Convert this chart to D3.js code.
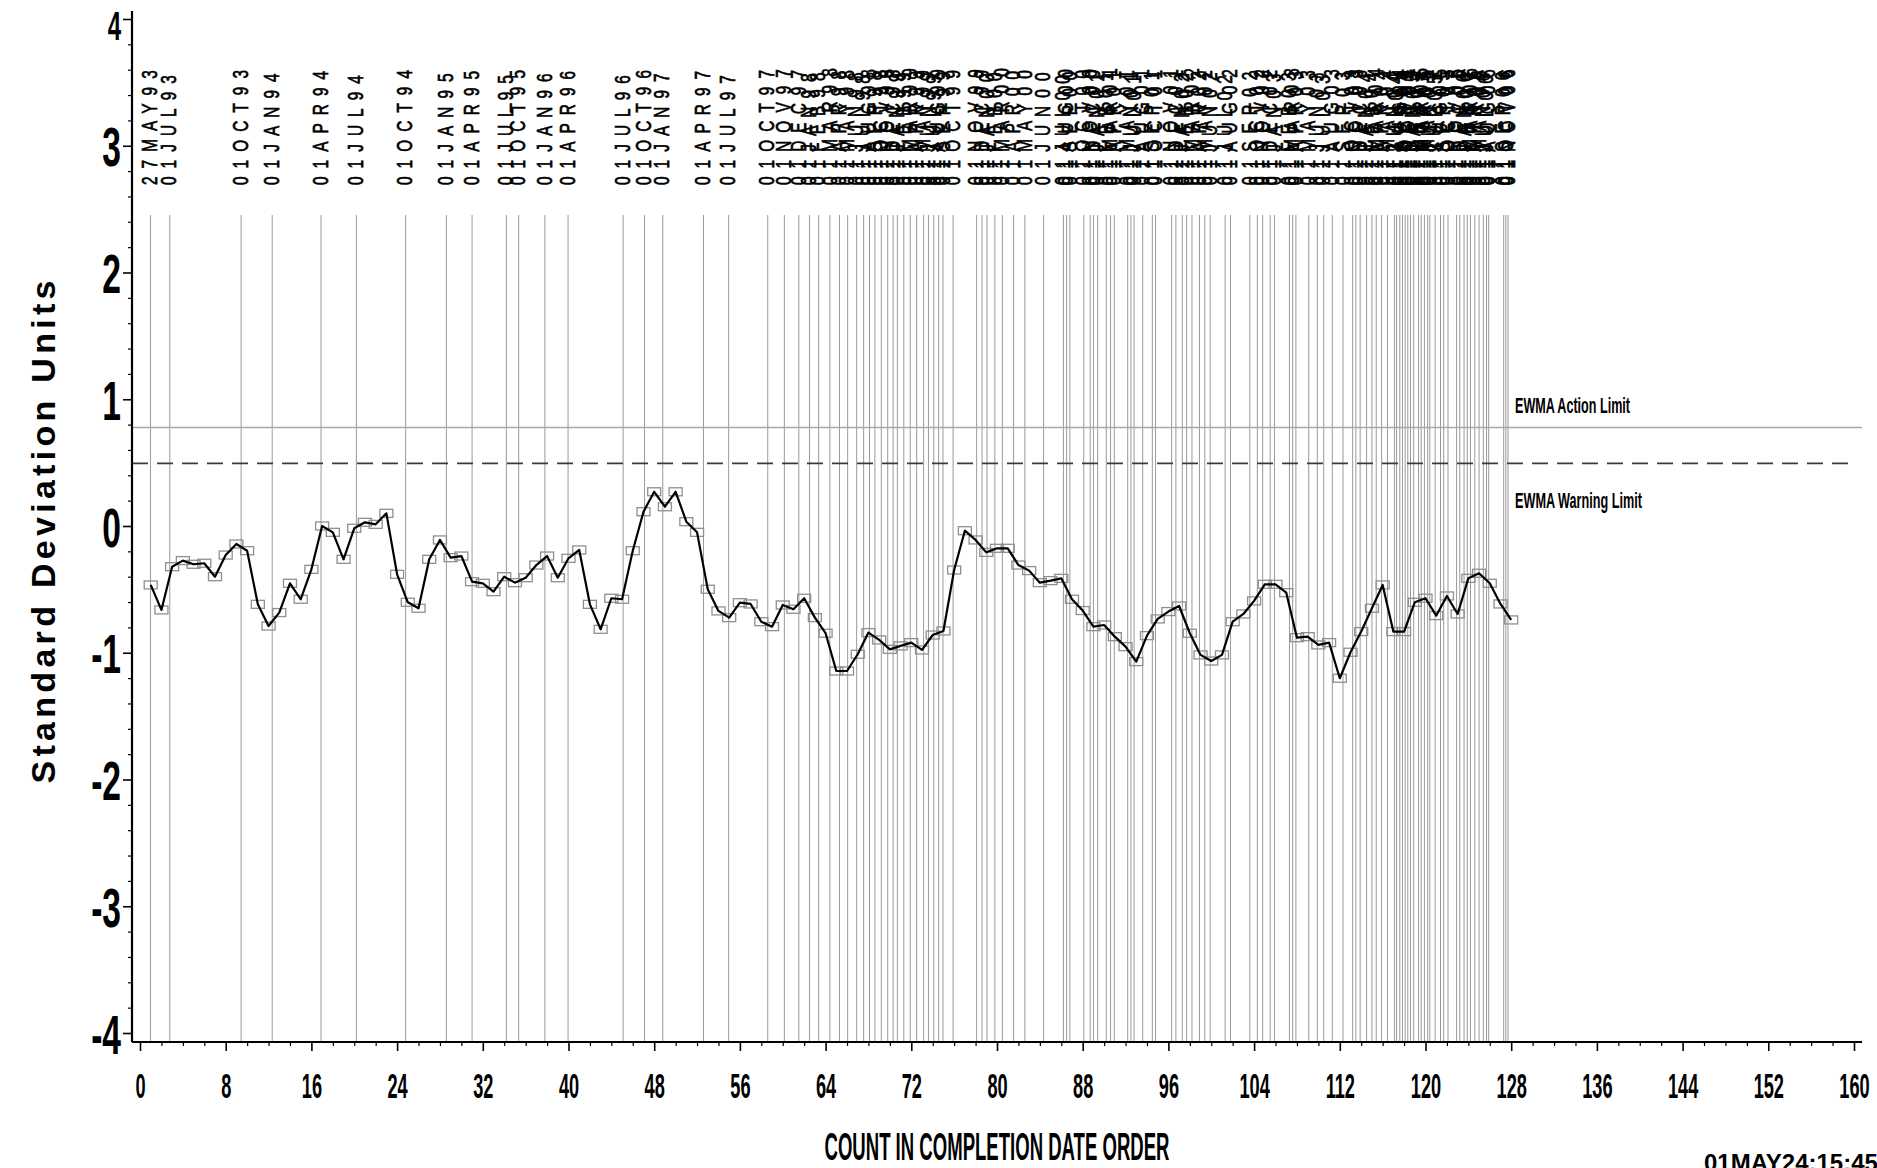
<!DOCTYPE html>
<html>
<head>
<meta charset="utf-8">
<script src="https://cdn.jsdelivr.net/npm/d3@7"></script>
<style>
  html, body { margin: 0; padding: 0; background: #fff; }
  svg { display: block; }
</style>
</head>
<body>
<svg id="chart" width="1877" height="1168"></svg>
<script>
// ---------------- DATA ----------------
// EWMA values (standard deviation units), one per completed item, count 1..128
const ewma = [
  -0.465, -0.662, -0.321, -0.273, -0.302, -0.294, -0.400, -0.229, -0.142, -0.195,
  -0.618, -0.789, -0.683, -0.452, -0.578, -0.342,  0.000, -0.050, -0.263, -0.018,
   0.029,  0.013,  0.100, -0.381, -0.602, -0.649, -0.263, -0.110, -0.250, -0.237,
  -0.439, -0.452, -0.518, -0.400, -0.447, -0.408, -0.308, -0.237, -0.408, -0.255,
  -0.189, -0.618, -0.815, -0.570, -0.578, -0.195,  0.113,  0.270,  0.152,  0.270,
   0.034, -0.050, -0.499, -0.670, -0.723, -0.605, -0.615, -0.755, -0.794, -0.623,
  -0.657, -0.570, -0.723, -0.846, -1.144, -1.144, -1.012, -0.841, -0.899, -0.973,
  -0.946, -0.920, -0.978, -0.860, -0.828, -0.347, -0.037, -0.110, -0.208, -0.176,
  -0.176, -0.308, -0.352, -0.447, -0.431, -0.413, -0.578, -0.667, -0.794, -0.781,
  -0.873, -0.952, -1.070, -0.865, -0.733, -0.675, -0.631, -0.846, -1.017, -1.065,
  -1.017, -0.755, -0.694, -0.591, -0.460, -0.460, -0.526, -0.881, -0.873, -0.938,
  -0.920, -1.201, -0.996, -0.833, -0.649, -0.465, -0.833, -0.833, -0.602, -0.570,
  -0.707, -0.552, -0.694, -0.413, -0.373, -0.452, -0.615, -0.741
];
const counts = d3.range(1, ewma.length + 1);

// Date reference lines (position on the count axis) and their labels
const refPos = [
  0.98, 2.78, 9.44, 12.34, 16.9, 20.2, 24.8, 28.6, 31.0, 34.2, 35.35, 37.8, 39.96,
  45.1, 47.1, 48.8, 52.6, 54.95,
  58.6, 60.15, 61.5, 62.5, 63.35, 64.4, 65.3, 66.06, 66.9, 67.55, 68.1, 68.6, 69.2,
  69.8, 70.3, 70.7, 71.3, 71.9, 72.5, 73.15, 73.6, 74.1, 74.55, 74.96, 75.9, 78.1,
  78.6, 79.07, 79.8, 80.5, 81.55, 82.6, 84.35, 86.2, 86.5, 86.8, 88.1, 88.7, 89.0,
  89.4, 90.2, 90.6, 90.95, 92.2, 92.5, 92.8, 93.6, 94.5, 94.8, 96.3, 96.7, 97.3,
  97.7, 98.2, 98.9, 99.4, 99.9, 101.3, 101.8, 103.6, 104.3, 104.8, 105.5, 105.9,
  107.3, 107.6, 107.9, 109.1, 109.9, 110.5, 111.3, 112.3, 113.2, 113.5, 113.9,
  114.5, 115.0, 115.4, 115.9, 116.45, 117.1, 117.3, 117.6, 117.85, 118.1, 118.35,
  118.6, 118.9, 119.35, 119.6, 119.9, 120.2, 120.4, 120.9, 121.4, 121.7, 122.1,
  122.9, 123.2, 123.6, 123.9, 124.2, 124.6, 125.0, 125.4, 125.7, 125.9, 127.3,
  127.5, 127.7
];
const refLabels = [
  "27MAY93","01JUL93","01OCT93","01JAN94","01APR94","01JUL94","01OCT94","01JAN95",
  "01APR95","01JUL95","01OCT95","01JAN96","01APR96","01JUL96","01OCT96","01JAN97",
  "01APR97","01JUL97",
  "01OCT97","01NOV97","01DEC97",
  "01JAN98","01FEB98","01MAR98","01APR98","01MAY98","01JUN98","01JUL98","01AUG98","01SEP98","01OCT98","01NOV98","01DEC98",
  "01JAN99","01FEB99","01MAR99","01APR99","01MAY99","01JUN99","01JUL99","01AUG99","01SEP99","01OCT99","01NOV99","01DEC99",
  "01JAN00","01FEB00","01MAR00","01APR00","01MAY00","01JUN00","01JUL00","01AUG00","01SEP00","01OCT00","01NOV00","01DEC00",
  "01JAN01","01FEB01","01MAR01","01APR01","01MAY01","01JUN01","01JUL01","01AUG01","01SEP01","01OCT01","01NOV01","01DEC01",
  "01JAN02","01FEB02","01MAR02","01APR02","01MAY02","01JUN02","01JUL02","01AUG02","01SEP02","01OCT02","01NOV02","01DEC02",
  "01JAN03","01FEB03","01MAR03","01APR03","01MAY03","01JUN03","01JUL03","01AUG03","01SEP03","01OCT03","01NOV03","01DEC03",
  "01JAN04","01FEB04","01MAR04","01APR04","01MAY04","01JUN04","01JUL04","01AUG04","01SEP04","01OCT04","01NOV04","01DEC04",
  "01JAN05","01FEB05","01MAR05","01APR05","01MAY05","01JUN05","01JUL05","01AUG05","01SEP05","01OCT05","01NOV05","01DEC05",
  "01JAN06","01FEB06","01MAR06","01APR06","01MAY06","01JUN06","01JUL06","01AUG06","01SEP06","01OCT06","01NOV06"
];

const xTickValues = [0, 8, 16, 24, 32, 40, 48, 56, 64, 72, 80, 88, 96, 104, 112, 120, 128, 136, 144, 152, 160];
const yTickValues = [-4, -3, -2, -1, 0, 1, 2, 3, 4];
const yTickLabels = ["-4", "-3", "-2", "-1", "0", "1", "2", "3", "4"];

const actionLimit = 0.778;
const warningLimit = 0.494;
const limitLabels = ["EWMA Action Limit", "EWMA Warning Limit"];

const xTitle = "COUNT IN COMPLETION DATE ORDER";
const yTitle = "Standard Deviation Units";
const stamp = "01MAY24:15:45";

// ---------------- DRAWING ----------------
const FONT = "'Liberation Sans', Arial, Helvetica, sans-serif";
const svg = d3.select("#chart");
svg.append("rect").attr("width", 1877).attr("height", 1168).attr("fill", "#fff");

const x = d3.scaleLinear().domain([0, 160]).range([140, 1854]);
const y = d3.scaleLinear().domain([-4, 4]).range([1033, 19]);

const frameLeft = x.range()[0] - 8;
const frameRight = x.range()[1] + 8;
const frameBottom = y.range()[0] + 9;
const frameTop = y.range()[1] - 8;
const refTop = 215;

// vertical date reference lines
svg.append("g").selectAll("line").data(refPos).join("line")
  .attr("x1", d => x(d)).attr("x2", d => x(d))
  .attr("y1", refTop).attr("y2", frameBottom)
  .attr("stroke", "#9a9a9a").attr("stroke-width", 1);

// rotated date labels
svg.append("g").selectAll("text").data(refPos).join("text")
  .attr("transform", d => `translate(${x(d) - 1},185) rotate(-90) scale(0.7,1)`)
  .attr("dy", "0.35em")
  .attr("font-family", FONT)
  .attr("font-size", 22)
  .attr("letter-spacing", 11.5)
  .attr("fill", "#000")
  .attr("stroke", "#000").attr("stroke-width", 0.7)
  .text((d, i) => refLabels[i]);

// limit lines
svg.append("line")
  .attr("x1", frameLeft).attr("x2", 1862)
  .attr("y1", y(actionLimit)).attr("y2", y(actionLimit))
  .attr("stroke", "#a8a8a8").attr("stroke-width", 1.5);
svg.append("line")
  .attr("x1", frameLeft).attr("x2", 1855)
  .attr("y1", y(warningLimit)).attr("y2", y(warningLimit))
  .attr("stroke", "#3a3a3a").attr("stroke-width", 1.6)
  .attr("stroke-dasharray", "16,9");

svg.append("text")
  .attr("x", 1515).attr("y", 413)
  .attr("font-family", FONT).attr("font-weight", "bold").attr("font-size", 22)
  .attr("textLength", 115).attr("lengthAdjust", "spacingAndGlyphs")
  .text(limitLabels[0]);
svg.append("text")
  .attr("x", 1515).attr("y", 508)
  .attr("font-family", FONT).attr("font-weight", "bold").attr("font-size", 22)
  .attr("textLength", 127).attr("lengthAdjust", "spacingAndGlyphs")
  .text(limitLabels[1]);

// markers
svg.append("g").selectAll("rect").data(ewma).join("rect")
  .attr("x", (d, i) => x(counts[i]) - 6.5)
  .attr("y", d => y(d) - 4)
  .attr("width", 13).attr("height", 8)
  .attr("fill", "none").attr("stroke", "#8f8f8f").attr("stroke-width", 1.3);

// EWMA line
svg.append("path")
  .datum(ewma)
  .attr("d", d3.line().x((d, i) => x(counts[i])).y(d => y(d)))
  .attr("fill", "none").attr("stroke", "#000").attr("stroke-width", 2.2)
  .attr("stroke-linejoin", "round");

// ---- x axis ----
const gx = svg.append("g").attr("transform", `translate(0,${frameBottom})`);
gx.call(d3.axisBottom(x).tickValues(xTickValues).tickSize(9).tickSizeOuter(0).tickPadding(22));
gx.select(".domain").remove();
gx.selectAll(".tick line").attr("stroke", "#000").attr("stroke-width", 1.6);
gx.selectAll(".tick text")
  .attr("font-family", FONT).attr("font-weight", "bold").attr("font-size", 35)
  .attr("fill", "#000").attr("transform", "scale(0.52,1)");

const gxm = svg.append("g").attr("transform", `translate(0,${frameBottom})`);
gxm.call(d3.axisBottom(x).tickValues(d3.range(0, 161, 2).filter(v => v % 8 !== 0))
  .tickSize(4).tickSizeOuter(0).tickFormat(""));
gxm.select(".domain").remove();
gxm.selectAll(".tick line").attr("stroke", "#000").attr("stroke-width", 1.2);

// ---- y axis ----
const gy = svg.append("g").attr("transform", `translate(${frameLeft},0)`);
gy.call(d3.axisLeft(y).tickValues(yTickValues).tickSize(9).tickSizeOuter(0)
  .tickFormat((d, i) => yTickLabels[i]));
gy.select(".domain").remove();
gy.selectAll(".tick line").attr("stroke", "#000").attr("stroke-width", 1.6);
gy.selectAll(".tick text")
  .attr("font-family", FONT).attr("font-weight", "bold")
  .attr("font-size", d => d === 4 ? 40 : 56)
  .attr("fill", "#000").attr("x", -11 / 0.6)
  .attr("dy", d => d === 4 ? "0.5em" : "0.36em")
  .attr("transform", "scale(0.6,1)");

const gym = svg.append("g").attr("transform", `translate(${frameLeft},0)`);
gym.call(d3.axisLeft(y)
  .tickValues(d3.range(-4, 4.0001, 0.2).filter(v => Math.abs(v - Math.round(v)) > 1e-6))
  .tickSize(4).tickSizeOuter(0).tickFormat(""));
gym.select(".domain").remove();
gym.selectAll(".tick line").attr("stroke", "#000").attr("stroke-width", 1.2);

// axis lines
svg.append("line").attr("x1", frameLeft).attr("x2", frameRight)
  .attr("y1", frameBottom).attr("y2", frameBottom)
  .attr("stroke", "#000").attr("stroke-width", 2.2);
svg.append("line").attr("x1", frameLeft).attr("x2", frameLeft)
  .attr("y1", frameTop).attr("y2", frameBottom)
  .attr("stroke", "#000").attr("stroke-width", 2.2);

// titles
svg.append("text")
  .attr("x", 997).attr("y", 1146).attr("dy", "0.36em")
  .attr("text-anchor", "middle")
  .attr("font-family", FONT).attr("font-weight", "bold").attr("font-size", 39)
  .attr("textLength", 345).attr("lengthAdjust", "spacingAndGlyphs")
  .text(xTitle);

svg.append("text")
  .attr("transform", "translate(43,532) rotate(-90)")
  .attr("text-anchor", "middle").attr("dy", "0.36em")
  .attr("font-family", FONT).attr("font-weight", "bold").attr("font-size", 34)
  .attr("textLength", 503).attr("lengthAdjust", "spacing")
  .text(yTitle);

svg.append("text")
  .attr("x", 1704).attr("y", 1171)
  .attr("font-family", FONT).attr("font-weight", "bold").attr("font-size", 24)
  .text(stamp);
</script>
</body>
</html>
